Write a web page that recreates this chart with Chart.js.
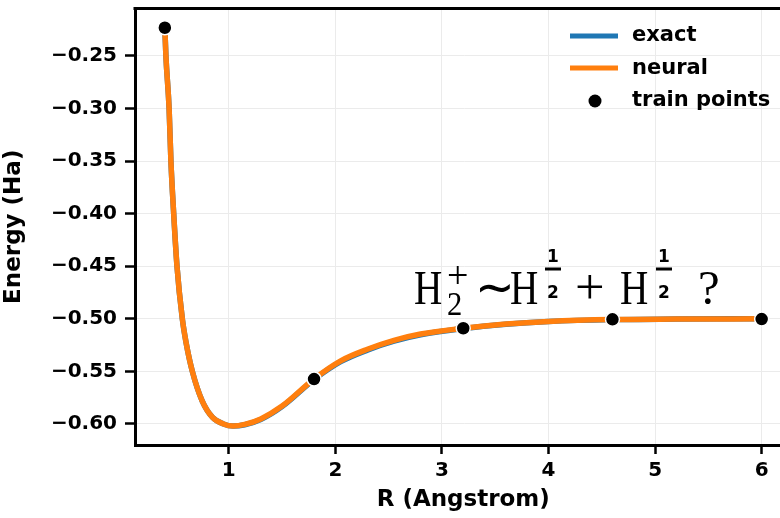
<!DOCTYPE html>
<html>
<head>
<style>
  body { margin: 0; overflow: hidden; background: #fff; }
</style>
</head>
<body>
<canvas id="myChart" width="800" height="518"></canvas>
<script src="https://cdn.jsdelivr.net/npm/chart.js"></script>
<script>
// bond length R (Angstrom) and energies (Ha)
const curveR = [0.40, 0.41, 0.44, 0.457, 0.483, 0.514, 0.564, 0.60, 0.658, 0.75, 0.85, 0.95, 1.04, 1.15, 1.30, 1.50, 1.80, 2.05, 2.30, 2.55, 2.80, 3.20, 3.60, 4.00, 4.60, 5.20, 6.00]
const exactE = [-0.223, -0.250, -0.300, -0.350, -0.400, -0.450, -0.500, -0.523, -0.550, -0.578, -0.594, -0.600, -0.602, -0.6008, -0.5958, -0.5835, -0.5578, -0.5408, -0.5298, -0.5213, -0.5153, -0.5093, -0.5052, -0.5026, -0.5008, -0.5003, -0.5000]
const neuralE = [-0.223, -0.250, -0.300, -0.350, -0.400, -0.450, -0.500, -0.523, -0.550, -0.578, -0.594, -0.600, -0.602, -0.6004, -0.5952, -0.5830, -0.5572, -0.5400, -0.5290, -0.5205, -0.5145, -0.5090, -0.5050, -0.5025, -0.5007, -0.5003, -0.5000]

const trainR = [0.4, 1.8, 3.2, 4.6, 6.0]
const trainE = [-0.2233, -0.5573, -0.5090, -0.5005, -0.5003]

const xTicks = [1, 2, 3, 4, 5, 6]
const yTicks = [-0.60, -0.55, -0.50, -0.45, -0.40, -0.35, -0.30, -0.25]

const legendLabels = ['exact', 'neural', 'train points']

const BLUE = '#1f77b4'
const ORANGE = '#ff7f0e'
const tickFont = { family: 'DejaVu Sans', size: 20, weight: 'bold' }
const titleFont = { family: 'DejaVu Sans', size: 23, weight: 'bold' }

function toXY(xs, ys) {
    return xs.map((x, i) => ({ x: x, y: ys[i] }))
}

// top spine, legend and the formula
const extras = {
    id: 'extras',
    afterDraw(chart) {
        const ctx = chart.ctx
        const area = chart.chartArea
        ctx.save()
        ctx.strokeStyle = '#000'
        ctx.lineWidth = 3
        ctx.beginPath()
        ctx.moveTo(area.left - 1.5, area.top)
        ctx.lineTo(area.right, area.top)
        ctx.stroke()

        // legend
        ctx.lineCap = 'butt'
        ctx.lineWidth = 5
        ctx.strokeStyle = BLUE
        ctx.beginPath(); ctx.moveTo(570, 36); ctx.lineTo(618, 36); ctx.stroke()
        ctx.strokeStyle = ORANGE
        ctx.beginPath(); ctx.moveTo(570, 68); ctx.lineTo(618, 68); ctx.stroke()
        ctx.fillStyle = '#000'
        ctx.beginPath(); ctx.arc(595, 101, 6.5, 0, Math.PI * 2); ctx.fill()
        ctx.font = 'bold 21px "DejaVu Sans"'
        ctx.textBaseline = 'middle'
        ctx.textAlign = 'left'
        legendLabels.forEach((t, i) => ctx.fillText(t, 632, 36 + i * 32.5))

        // H2+ ~ H^(1/2) + H^(1/2) ?
        const serif = 'px "Liberation Serif"'
        function txt(s, x, y, size, sx) {
            ctx.save()
            ctx.translate(x, y)
            ctx.scale(sx, 1)
            ctx.font = size + serif
            ctx.textBaseline = 'alphabetic'
            ctx.fillText(s, 0, 0)
            ctx.restore()
        }
        function half(x) {
            ctx.save()
            ctx.font = 'bold 17px "DejaVu Sans"'
            ctx.textAlign = 'center'
            ctx.textBaseline = 'alphabetic'
            ctx.fillText('1', x + 8, 262)
            ctx.fillText('2', x + 8, 298)
            ctx.fillRect(x, 267.5, 16, 3)
            ctx.restore()
        }
        txt('H', 414, 304, 49, 0.8)
        txt('2', 447, 315, 34, 0.9)
        txt('+', 447, 288, 38, 1)
        txt('\u223C', 475, 304, 50, 0.95)
        txt('H', 510, 304, 49, 0.8)
        half(545)
        txt('+', 575, 304, 50, 1.05)
        txt('H', 620, 304, 49, 0.8)
        half(656)
        txt('?', 698, 304, 49, 1)
        ctx.restore()
    }
}

new Chart(document.getElementById('myChart').getContext('2d'), {
    type: 'line',
    data: {
        datasets: [
            {
                label: 'train points',
                type: 'scatter',
                data: toXY(trainR, trainE),
                showLine: false,
                pointRadius: 7,
                pointBackgroundColor: '#000',
                pointBorderColor: '#fff',
                pointBorderWidth: 1.5,
                order: 0
            },
            {
                label: 'neural',
                data: toXY(curveR, neuralE),
                borderColor: ORANGE,
                borderWidth: 5.5,
                pointRadius: 0,
                cubicInterpolationMode: 'monotone',
                fill: false,
                order: 1
            },
            {
                label: 'exact',
                data: toXY(curveR, exactE),
                borderColor: BLUE,
                borderWidth: 5.5,
                pointRadius: 0,
                cubicInterpolationMode: 'monotone',
                fill: false,
                order: 2
            }
        ]
    },
    options: {
        responsive: false,
        animation: false,
        layout: { padding: { top: 8, right: 8, left: 0, bottom: 0 } },
        plugins: { legend: { display: false }, tooltip: { enabled: false } },
        scales: {
            x: {
                type: 'linear',
                min: 0.12,
                max: 6.28,
                afterBuildTicks: (scale) => { scale.ticks = xTicks.map(v => ({ value: v })) },
                afterFit: (scale) => {
                    scale.height = 73
                    scale.paddingLeft = 0
                    scale.paddingRight = 0
                },
                ticks: { color: '#000', font: tickFont, padding: 5, maxRotation: 0, callback: (v) => String(v) },
                grid: { color: '#ebebeb', lineWidth: 1, tickColor: '#000', tickWidth: 2.5, tickLength: 9 },
                border: { color: '#000', width: 3 },
                title: { display: true, text: 'R (Angstrom)', color: '#000', font: titleFont, padding: { top: 0, bottom: 4 } }
            },
            y: {
                min: -0.62,
                max: -0.205,
                afterBuildTicks: (scale) => { scale.ticks = yTicks.map(v => ({ value: v })) },
                afterFit: (scale) => {
                    scale.width = 135
                    scale.paddingTop = 0
                    scale.paddingBottom = 0
                },
                ticks: {
                    color: '#000', font: tickFont, padding: 8,
                    callback: (v) => (v < 0 ? '\u2212' : '') + Math.abs(v).toFixed(2)
                },
                grid: { color: '#ebebeb', lineWidth: 1, tickColor: '#000', tickWidth: 2.5, tickLength: 10 },
                border: { color: '#000', width: 3 },
                title: { display: true, text: 'Energy (Ha)', color: '#000', font: titleFont, padding: { top: 0, bottom: 0 } }
            }
        }
    },
    plugins: [extras]
});
</script>
</body>
</html>
